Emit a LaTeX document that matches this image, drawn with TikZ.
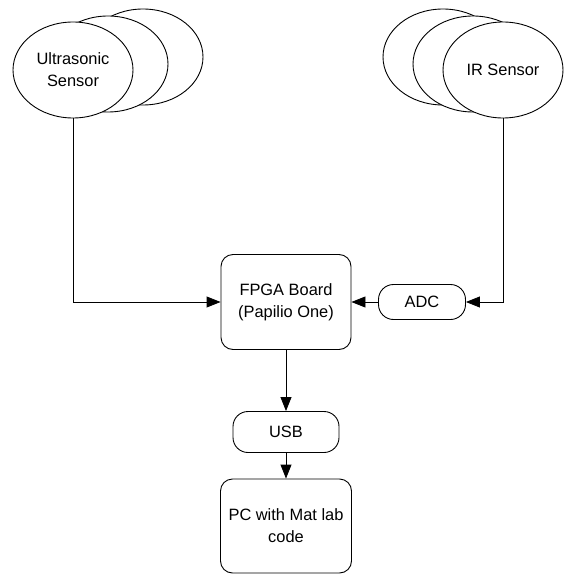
\documentclass[tikz,border=0pt]{standalone}
\usepackage{fontspec}
\setmainfont{Liberation Sans}
\usetikzlibrary{shapes.geometric,arrows.meta}
\begin{document}
\begin{tikzpicture}[x=1pt,y=-1pt,
  lw/.style={line width=0.9pt},
  sens/.style={draw,lw,ellipse,fill=white,minimum width=120pt,minimum height=96pt,inner sep=0pt,align=center,font=\fontsize{16.4}{22}\selectfont},
  box/.style={draw,lw,rounded corners=12pt,align=center,inner sep=0pt,font=\fontsize{16.4}{22}\selectfont},
  conn/.style={lw,-{Triangle[length=14pt,width=11pt]}}
]
\useasboundingbox (0,0) rectangle (564,575);
% Ultrasonic sensor stack
\node[sens] (us3) at (143,57) {};
\node[sens] (us2) at (108,64) {};
\node[sens] (us) at (73,70) {Ultrasonic\\Sensor};
% IR sensor stack
\node[sens] (ir3) at (443,57) {};
\node[sens] (ir2) at (473,64) {};
\node[sens] (ir) at (503,70) {IR Sensor};
% boxes
\node[box,minimum width=130pt,minimum height=95pt] (fpga) at (286,302) {FPGA Board\\(Papilio One)};
\node[box,rounded corners=15pt,minimum width=87pt,minimum height=35pt] (adc) at (422,302) {ADC};
\node[box,rounded corners=15pt,minimum width=106pt,minimum height=41pt] (usb) at (286,432) {USB};
\node[box,minimum width=131pt,minimum height=94pt] (pc) at (286,526) {PC with Mat lab\\code};
% connectors
\draw[conn] (us.south) |- (fpga.west);
\draw[conn] (ir.south) |- (adc.east);
\draw[conn] (adc.west) -- (fpga.east);
\draw[conn] (fpga.south) -- (usb.north);
\draw[conn] (usb.south) -- (pc.north);
\end{tikzpicture}
\end{document}
